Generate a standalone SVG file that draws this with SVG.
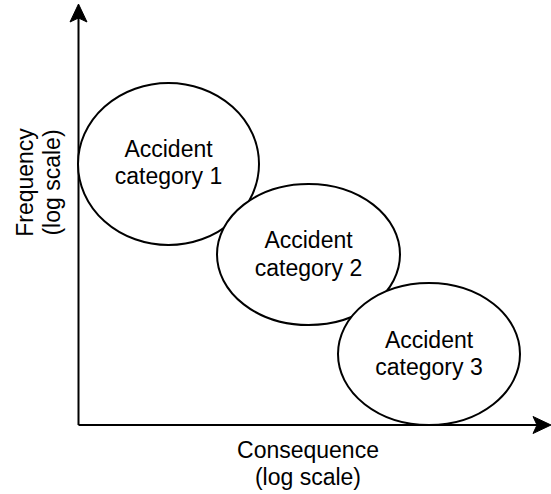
<svg xmlns="http://www.w3.org/2000/svg" width="551" height="494" viewBox="0 0 551 494">
<style>
.n{fill:#fff;stroke:#000;stroke-width:2}
.t{font-family:"Liberation Sans",Arial,sans-serif;font-size:23px;fill:#000;text-anchor:middle}
.ax{stroke:#000;stroke-width:2;fill:none}
</style>
<rect width="551" height="494" fill="#fff"/>
<g id="axes">
<path class="ax" d="M78.5 425 L78.5 18"/>
<path class="ax" d="M78.5 425 L537 425"/>
<path d="M78.5 4 L87 22 L78.5 18 L70 22 Z" fill="#000" stroke="#000" stroke-width="1"/>
<path d="M551 425 L533 433.5 L537 425 L533 416.5 Z" fill="#000" stroke="#000" stroke-width="1"/>
</g>
<g id="cat1">
<ellipse class="n" cx="168.5" cy="164" rx="90.5" ry="81"/>
<text class="t" x="168.5" y="157">Accident</text>
<text class="t" x="168.5" y="184">category 1</text>
</g>
<g id="cat2">
<ellipse class="n" cx="308.5" cy="254.5" rx="91.5" ry="70.5"/>
<text class="t" x="308.5" y="248">Accident</text>
<text class="t" x="308.5" y="276">category 2</text>
</g>
<g id="cat3">
<ellipse class="n" cx="429" cy="354" rx="91" ry="71"/>
<text class="t" x="429" y="348">Accident</text>
<text class="t" x="429" y="375">category 3</text>
</g>
<g id="xlabel">
<text class="t" x="308" y="458">Consequence</text>
<text class="t" x="308" y="485">(log scale)</text>
</g>
<g id="ylabel">
<text class="t" transform="translate(33 182.5) rotate(-90)" x="0" y="0">Frequency</text>
<text class="t" transform="translate(60 182.5) rotate(-90)" x="0" y="0">(log scale)</text>
</g>
</svg>
